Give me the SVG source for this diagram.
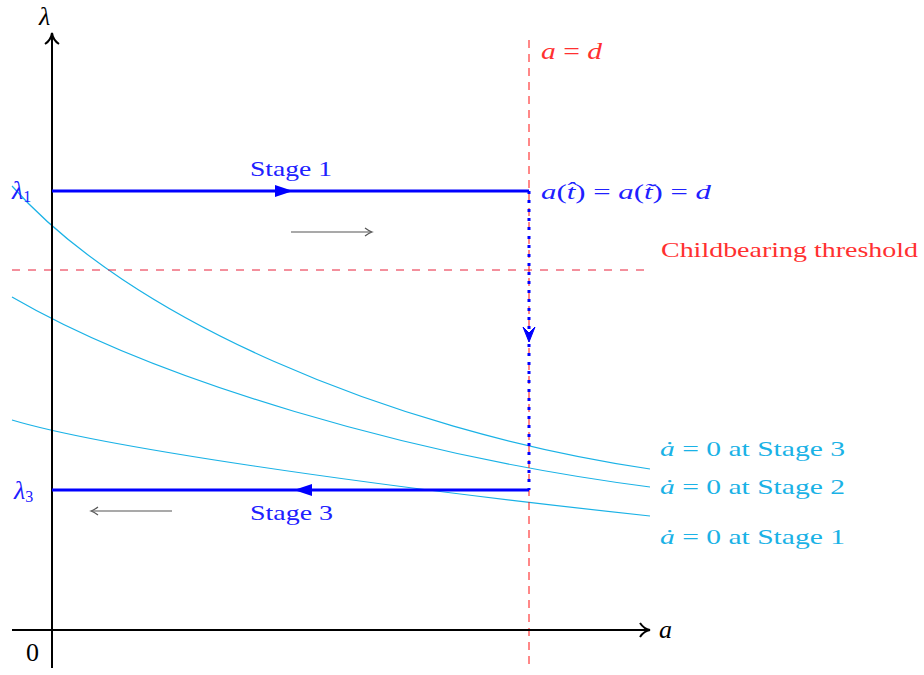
<svg xmlns="http://www.w3.org/2000/svg" width="924" height="675" viewBox="0 0 924 675">
<style>
text{font-family:"Liberation Serif","DejaVu Serif",serif;}
.m{font-style:italic;}
.blue{fill:#2020ff;}
.red{fill:#ff3030;}
.cy{fill:#1ab2e6;}
.curve{fill:none;stroke:#1ab2e6;stroke-width:1.2;}
.ax{stroke:#000;stroke-width:2;fill:none;}
.gray{stroke:#555;stroke-width:1.2;fill:none;}
</style>
<rect width="924" height="675" fill="#fff"/>
<g id="curves">
<path class="curve" d="M12,186 C127,316 382,429 650,469"/>
<path class="curve" d="M12,297 C155,380 410,456 650,487"/>
<path class="curve" d="M12,420 C98,446 354,484 650,516"/>
</g>
<g id="threshold">
<line x1="12" y1="270" x2="645" y2="270" stroke="#e8203a" stroke-width="1" stroke-dasharray="8 8"/>
<text x="661" y="257" font-size="22" class="red" textLength="257" lengthAdjust="spacingAndGlyphs">Childbearing threshold</text>
</g>
<g id="a-equals-d">
<line x1="529" y1="40" x2="529" y2="670" stroke="#ff1010" stroke-width="1" stroke-dasharray="8 6"/>
<text x="541" y="59" font-size="24" class="red" textLength="61" lengthAdjust="spacingAndGlyphs"><tspan class="m">a</tspan> = <tspan class="m">d</tspan></text>
</g>
<g id="axes">
<line class="ax" x1="52" y1="668" x2="52" y2="34"/>
<path class="ax" d="M45,44 Q51,40 52,33 Q53,40 59,44" stroke-width="1.6"/>
<line class="ax" x1="12" y1="630" x2="648" y2="630"/>
<path class="ax" d="M640,623 Q644,629 650,630 Q644,631 640,637" stroke-width="1.6"/>
<text x="39" y="25" font-size="26" class="m">λ</text>
<text x="659" y="638" font-size="26" class="m">a</text>
<text x="26" y="661" font-size="26">0</text>
</g>
<g id="connectors">
<line x1="52" y1="191" x2="529" y2="191" stroke="#0000ff" stroke-width="3"/>
<path d="M275,185 L293,191 L275,197 Z" fill="#0000ff"/>
<line x1="52" y1="490" x2="529" y2="490" stroke="#0000ff" stroke-width="3"/>
<path d="M312,484 L294,490 L312,496 Z" fill="#0000ff"/>
<line x1="529" y1="191" x2="529" y2="490" stroke="#0000ff" stroke-width="3" stroke-dasharray="3 6"/>
<path d="M523,327 L529,342 L535,327 L529,333 Z" fill="#0000ff" stroke="#0000ff" stroke-width="1"/>
<line class="gray" x1="291" y1="232" x2="371" y2="232"/>
<path class="gray" d="M365,228 Q369,231 372,232 Q369,233 365,236"/>
<line class="gray" x1="172" y1="511" x2="93" y2="511"/>
<path class="gray" d="M98,507 Q94,510 91,511 Q94,512 98,515"/>
</g>
<g id="labels">
<text x="250" y="176" font-size="21" class="blue" textLength="82" lengthAdjust="spacingAndGlyphs">Stage 1</text>
<text x="250" y="520" font-size="21" class="blue" textLength="83" lengthAdjust="spacingAndGlyphs">Stage 3</text>
<text x="12" y="199" font-size="26" class="blue"><tspan class="m">λ</tspan><tspan font-size="16" dy="3">1</tspan></text>
<text x="14" y="499" font-size="26" class="blue"><tspan class="m">λ</tspan><tspan font-size="16" dy="3">3</tspan></text>
<text x="541" y="199" font-size="22" class="blue" textLength="170" lengthAdjust="spacingAndGlyphs"><tspan class="m">a</tspan>(<tspan class="m">t̂</tspan>) = <tspan class="m">a</tspan>(<tspan class="m">t̃</tspan>) = <tspan class="m">d</tspan></text>
<text x="660" y="456" font-size="22" class="cy" textLength="185" lengthAdjust="spacingAndGlyphs"><tspan class="m">ȧ</tspan> = 0 at Stage 3</text>
<text x="660" y="494" font-size="22" class="cy" textLength="185" lengthAdjust="spacingAndGlyphs"><tspan class="m">ȧ</tspan> = 0 at Stage 2</text>
<text x="660" y="544" font-size="22" class="cy" textLength="185" lengthAdjust="spacingAndGlyphs"><tspan class="m">ȧ</tspan> = 0 at Stage 1</text>
</g>
</svg>
